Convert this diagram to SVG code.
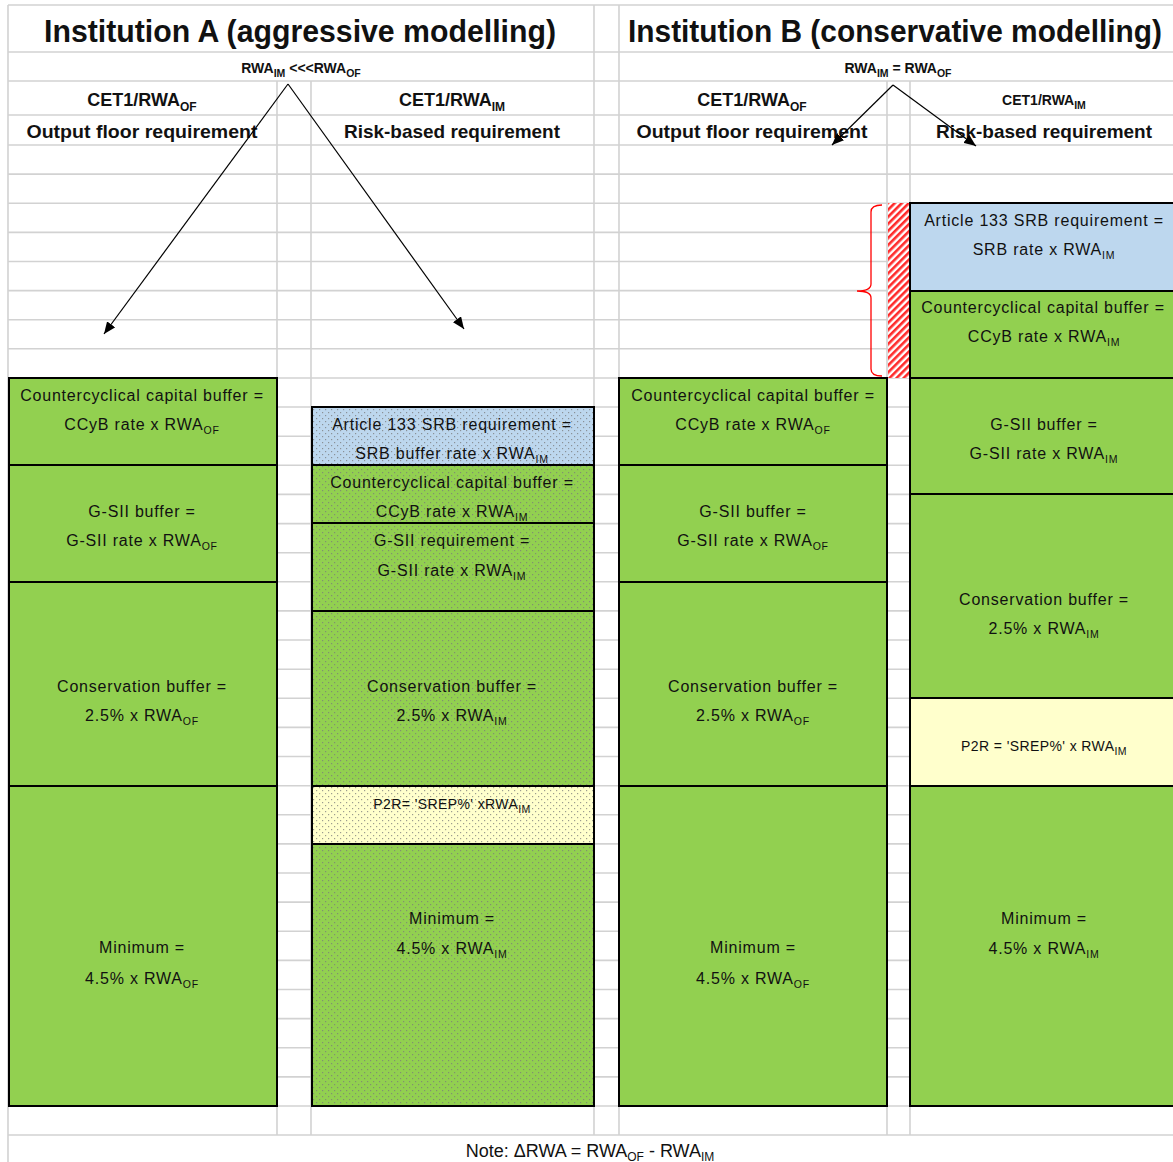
<svg xmlns="http://www.w3.org/2000/svg" width="1173" height="1162" viewBox="0 0 1173 1162">
<style>
.grid{stroke:#d2d2d2;stroke-width:1.6;fill:none}
.box{stroke:#000;stroke-width:2;fill:none}
.g{fill:#92d050}
.b{fill:#bdd7ee}
.y{fill:#ffffcc}
text{font-family:"Liberation Sans",Arial,sans-serif;fill:#111;text-anchor:middle}
.t{font-size:16px;letter-spacing:0.8px}
.ts{font-size:14px;letter-spacing:0.4px}
.sub{font-size:10.5px}
.h1{font-size:31px;font-weight:bold}
.h2{font-size:18px;font-weight:bold}
.h3{font-size:19px;font-weight:bold}
.h4{font-size:14px;font-weight:bold}
.conn{stroke:#000;stroke-width:1.2;fill:none;marker-end:url(#arr)}
</style>
<defs>
<pattern id="dots" width="6" height="6" patternUnits="userSpaceOnUse">
<rect x="1" y="1" width="1.2" height="1.2" fill="#7a7a7a" opacity="0.75"/>
<rect x="4" y="4" width="1.2" height="1.2" fill="#7a7a7a" opacity="0.75"/>
</pattern>
<pattern id="hatch" width="5" height="5" patternUnits="userSpaceOnUse" patternTransform="rotate(45)">
<rect width="5" height="5" fill="#fff"/>
<rect width="2.6" height="5" fill="#ff2a2a"/>
</pattern>
<marker id="arr" markerWidth="12" markerHeight="10" refX="12" refY="5" orient="auto" markerUnits="userSpaceOnUse">
<path d="M0,0 L12,5 L0,10 z" fill="#000"/>
</marker>
</defs>
<rect width="1173" height="1162" fill="#fff"/>
<g id="grid">
<path class="grid" d="M8,5H1173 M8,52H1173 M8,81H1173 M8,115H1173 M8,145H1173
M8,174.1H1173 M8,203.2H1173 M8,232.4H1173 M8,261.5H1173 M8,290.6H1173 M8,319.7H1173 M8,348.8H1173 M8,378H1173
M8,407H1173 M8,436.2H1173 M8,465.3H1173 M8,494.4H1173 M8,523.6H1173 M8,552.7H1173 M8,581.8H1173 M8,610.9H1173
M8,640H1173 M8,669.2H1173 M8,698.3H1173 M8,727.4H1173 M8,756.5H1173 M8,785.7H1173 M8,814.8H1173 M8,843.9H1173
M8,873H1173 M8,902.1H1173 M8,931.3H1173 M8,960.4H1173 M8,989.5H1173 M8,1018.6H1173 M8,1047.8H1173 M8,1076.9H1173
M8,1106H1173 M8,1135H1173"/>
<path class="grid" d="M8,5V1162 M594,5V1135 M619,5V1135 M277,81V1135 M311,81V1135 M887,81V1135 M910,81V1135"/>
</g>
<g id="headers">
<text class="h1" x="300" y="42" textLength="512" lengthAdjust="spacingAndGlyphs">Institution A (aggressive modelling)</text>
<text class="h1" x="895" y="42" textLength="534" lengthAdjust="spacingAndGlyphs">Institution B (conservative modelling)</text>
<text class="h4" x="301" y="73">RWA<tspan class="sub" dy="4">IM</tspan><tspan dy="-4"> &lt;&lt;&lt;RWA</tspan><tspan class="sub" dy="4">OF</tspan></text>
<text class="h4" x="898" y="73">RWA<tspan class="sub" dy="4">IM</tspan><tspan dy="-4"> = RWA</tspan><tspan class="sub" dy="4">OF</tspan></text>
<text class="h2" x="142" y="106">CET1/RWA<tspan style="font-size:12px" dy="5">OF</tspan></text>
<text class="h2" x="452" y="106">CET1/RWA<tspan style="font-size:12px" dy="5">IM</tspan></text>
<text class="h2" x="752" y="106">CET1/RWA<tspan style="font-size:12px" dy="5">OF</tspan></text>
<text class="h4" x="1044" y="105">CET1/RWA<tspan class="sub" dy="4">IM</tspan></text>
<text class="h3" x="142" y="138" textLength="231" lengthAdjust="spacingAndGlyphs">Output floor requirement</text>
<text class="h3" x="452" y="138" textLength="216" lengthAdjust="spacingAndGlyphs">Risk-based requirement</text>
<text class="h3" x="752" y="138" textLength="231" lengthAdjust="spacingAndGlyphs">Output floor requirement</text>
<text class="h3" x="1044" y="138" textLength="216" lengthAdjust="spacingAndGlyphs">Risk-based requirement</text>
</g>
<g id="col-A-OF">
<g id="a-of-ccyb"><rect class="g" x="9" y="378" width="268" height="87"/><rect class="box" x="9" y="378" width="268" height="87"/>
<text class="t" x="142" y="401">Countercyclical capital buffer =</text><text class="t" x="142" y="430">CCyB rate x RWA<tspan class="sub" dy="4">OF</tspan></text></g>
<g id="a-of-gsii"><rect class="g" x="9" y="465" width="268" height="117"/><rect class="box" x="9" y="465" width="268" height="117"/>
<text class="t" x="142" y="517">G-SII buffer =</text><text class="t" x="142" y="546">G-SII rate x RWA<tspan class="sub" dy="4">OF</tspan></text></g>
<g id="a-of-cons"><rect class="g" x="9" y="582" width="268" height="204"/><rect class="box" x="9" y="582" width="268" height="204"/>
<text class="t" x="142" y="692">Conservation buffer =</text><text class="t" x="142" y="721">2.5% x RWA<tspan class="sub" dy="4">OF</tspan></text></g>
<g id="a-of-min"><rect class="g" x="9" y="786" width="268" height="320"/><rect class="box" x="9" y="786" width="268" height="320"/>
<text class="t" x="142" y="953">Minimum =</text><text class="t" x="142" y="984">4.5% x RWA<tspan class="sub" dy="4">OF</tspan></text></g>
</g>
<g id="col-A-IM">
<g id="a-im-srb"><rect class="b" x="312" y="407" width="282" height="58"/><rect fill="url(#dots)" x="312" y="407" width="282" height="58"/><rect class="box" x="312" y="407" width="282" height="58"/>
<text class="t" x="452" y="430">Article 133 SRB requirement =</text><text class="t" x="452" y="459">SRB buffer rate x  RWA<tspan class="sub" dy="4">IM</tspan></text></g>
<g id="a-im-ccyb"><rect class="g" x="312" y="465" width="282" height="58"/><rect fill="url(#dots)" x="312" y="465" width="282" height="58"/><rect class="box" x="312" y="465" width="282" height="58"/>
<text class="t" x="452" y="488">Countercyclical capital buffer =</text><text class="t" x="452" y="517">CCyB rate x RWA<tspan class="sub" dy="4">IM</tspan></text></g>
<g id="a-im-gsii"><rect class="g" x="312" y="523" width="282" height="88"/><rect fill="url(#dots)" x="312" y="523" width="282" height="88"/><rect class="box" x="312" y="523" width="282" height="88"/>
<text class="t" x="452" y="546">G-SII requirement =</text><text class="t" x="452" y="576">G-SII rate x RWA<tspan class="sub" dy="4">IM</tspan></text></g>
<g id="a-im-cons"><rect class="g" x="312" y="611" width="282" height="175"/><rect fill="url(#dots)" x="312" y="611" width="282" height="175"/><rect class="box" x="312" y="611" width="282" height="175"/>
<text class="t" x="452" y="692">Conservation buffer =</text><text class="t" x="452" y="721">2.5% x RWA<tspan class="sub" dy="4">IM</tspan></text></g>
<g id="a-im-p2r"><rect class="y" x="312" y="786" width="282" height="58"/><rect fill="url(#dots)" x="312" y="786" width="282" height="58"/><rect class="box" x="312" y="786" width="282" height="58"/>
<text class="ts" x="452" y="809">P2R= 'SREP%' xRWA<tspan class="sub" dy="4">IM</tspan></text></g>
<g id="a-im-min"><rect class="g" x="312" y="844" width="282" height="262"/><rect fill="url(#dots)" x="312" y="844" width="282" height="262"/><rect class="box" x="312" y="844" width="282" height="262"/>
<text class="t" x="452" y="924">Minimum =</text><text class="t" x="452" y="954">4.5% x RWA<tspan class="sub" dy="4">IM</tspan></text></g>
</g>
<g id="col-B-OF">
<g id="b-of-ccyb"><rect class="g" x="619" y="378" width="268" height="87"/><rect class="box" x="619" y="378" width="268" height="87"/>
<text class="t" x="753" y="401">Countercyclical capital buffer =</text><text class="t" x="753" y="430">CCyB rate x RWA<tspan class="sub" dy="4">OF</tspan></text></g>
<g id="b-of-gsii"><rect class="g" x="619" y="465" width="268" height="117"/><rect class="box" x="619" y="465" width="268" height="117"/>
<text class="t" x="753" y="517">G-SII buffer =</text><text class="t" x="753" y="546">G-SII rate x RWA<tspan class="sub" dy="4">OF</tspan></text></g>
<g id="b-of-cons"><rect class="g" x="619" y="582" width="268" height="204"/><rect class="box" x="619" y="582" width="268" height="204"/>
<text class="t" x="753" y="692">Conservation buffer =</text><text class="t" x="753" y="721">2.5% x RWA<tspan class="sub" dy="4">OF</tspan></text></g>
<g id="b-of-min"><rect class="g" x="619" y="786" width="268" height="320"/><rect class="box" x="619" y="786" width="268" height="320"/>
<text class="t" x="753" y="953">Minimum =</text><text class="t" x="753" y="984">4.5% x RWA<tspan class="sub" dy="4">OF</tspan></text></g>
</g>
<g id="col-B-IM">
<g id="b-im-srb"><rect class="b" x="910" y="203" width="266" height="88"/><rect class="box" x="910" y="203" width="266" height="88"/>
<text class="t" x="1044" y="226">Article 133 SRB requirement =</text><text class="t" x="1044" y="255">SRB rate x RWA<tspan class="sub" dy="4">IM</tspan></text></g>
<g id="b-im-ccyb"><rect class="g" x="910" y="291" width="266" height="87"/><rect class="box" x="910" y="291" width="266" height="87"/>
<text class="t" x="1043" y="313">Countercyclical capital buffer =</text><text class="t" x="1044" y="342">CCyB rate x RWA<tspan class="sub" dy="4">IM</tspan></text></g>
<g id="b-im-gsii"><rect class="g" x="910" y="378" width="266" height="116"/><rect class="box" x="910" y="378" width="266" height="116"/>
<text class="t" x="1044" y="430">G-SII buffer =</text><text class="t" x="1044" y="459">G-SII rate x RWA<tspan class="sub" dy="4">IM</tspan></text></g>
<g id="b-im-cons"><rect class="g" x="910" y="494" width="266" height="204"/><rect class="box" x="910" y="494" width="266" height="204"/>
<text class="t" x="1044" y="605">Conservation buffer =</text><text class="t" x="1044" y="634">2.5% x RWA<tspan class="sub" dy="4">IM</tspan></text></g>
<g id="b-im-p2r"><rect class="y" x="910" y="698" width="266" height="88"/><rect class="box" x="910" y="698" width="266" height="88"/>
<text class="ts" x="1044" y="751">P2R = 'SREP%' x RWA<tspan class="sub" dy="4">IM</tspan></text></g>
<g id="b-im-min"><rect class="g" x="910" y="786" width="266" height="320"/><rect class="box" x="910" y="786" width="266" height="320"/>
<text class="t" x="1044" y="924">Minimum =</text><text class="t" x="1044" y="954">4.5% x RWA<tspan class="sub" dy="4">IM</tspan></text></g>
</g>
<g id="delta-rwa">
<rect x="888" y="203" width="21" height="175" fill="url(#hatch)"/>
<path d="M882,205 Q871,205 871,212 V284 Q871,291 857,291 Q871,291 871,298 V369 Q871,376 882,376" fill="none" stroke="#ff0000" stroke-width="1.3"/>
</g>
<g id="connectors">
<path class="conn" d="M288,84 L104,334"/>
<path class="conn" d="M288,84 L464,329"/>
<path class="conn" d="M893,85 L832,145"/>
<path class="conn" d="M893,85 L976,146"/>
</g>
<g id="note">
<text x="590" y="1157" style="font-size:18px">Note: ΔRWA = RWA<tspan style="font-size:12px" dy="4">OF</tspan><tspan dy="-4"> - RWA</tspan><tspan style="font-size:12px" dy="4">IM</tspan></text>
</g>
</svg>
